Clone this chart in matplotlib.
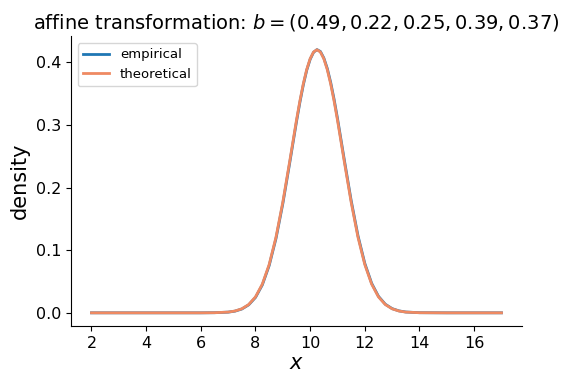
import matplotlib
matplotlib.use("Agg")
import matplotlib.pyplot as plt

x_vals = [2.0, 3.0, 4.0, 5.0, 6.0, 6.5, 7.0, 7.25, 7.5, 7.75, 8.0, 8.25, 8.5, 8.75,
          9.0, 9.25, 9.5, 9.625, 9.75, 9.875, 10.0, 10.125, 10.25, 10.375, 10.5,
          10.625, 10.75, 10.875, 11.0, 11.25, 11.5,
          11.75, 12.0, 12.25, 12.5, 12.75, 13.0, 13.25, 13.5, 14.0, 15.0, 16.0, 17.0]
theoretical = [0.0, 0.0, 0.0, 0.0, 0.0, 0.0002, 0.0012, 0.0029, 0.0064, 0.0132, 0.0254,
               0.0458, 0.0770, 0.1207, 0.1767, 0.2413, 0.3076, 0.3383, 0.3657, 0.3885,
               0.4057, 0.4164, 0.4200, 0.4164, 0.4057, 0.3885, 0.3657, 0.3383,
               0.3076, 0.2413, 0.1767, 0.1207, 0.0770, 0.0458, 0.0254,
               0.0132, 0.0064, 0.0029, 0.0012, 0.0002, 0.0, 0.0, 0.0]
empirical = [0.0, 0.0, 0.0, 0.0, 0.0, 0.0002, 0.0011, 0.0027, 0.0061, 0.0127, 0.0246,
             0.0446, 0.0754, 0.1187, 0.1743, 0.2388, 0.3052, 0.3362, 0.3640, 0.3874,
             0.4047, 0.4160, 0.4202, 0.4172, 0.4068, 0.3903, 0.3680, 0.3410,
             0.3104, 0.2441, 0.1794, 0.1230, 0.0788, 0.0471, 0.0263,
             0.0137, 0.0067, 0.0031, 0.0013, 0.0002, 0.0, 0.0, 0.0]
b_vals = [0.49, 0.22, 0.25, 0.39, 0.37]

fig = plt.figure(figsize=(5.62, 3.77), dpi=100)
ax = fig.add_axes([0.1263, 0.1353, 0.8025, 0.768])
ax.plot(x_vals, empirical, color="#1f77b4", lw=2, label="empirical")
ax.plot(x_vals, theoretical, color="#ef8a62", lw=2, label="theoretical")
ax.spines["top"].set_visible(False)
ax.spines["right"].set_visible(False)
ax.set_xticks([2, 4, 6, 8, 10, 12, 14, 16])
ax.set_yticks([0.0, 0.1, 0.2, 0.3, 0.4])
ax.tick_params(labelsize=11.5)
ax.set_xlabel("$x$", fontsize=15, labelpad=2)
ax.set_ylabel("density", fontsize=15)
b_str = ", ".join(f"{v:.2f}" for v in b_vals)
ax.set_title(f"affine transformation: $b = ({b_str})$", fontsize=14)
ax.legend(loc="upper left", fontsize=9.5)
fig.savefig("out.png", dpi=100)
